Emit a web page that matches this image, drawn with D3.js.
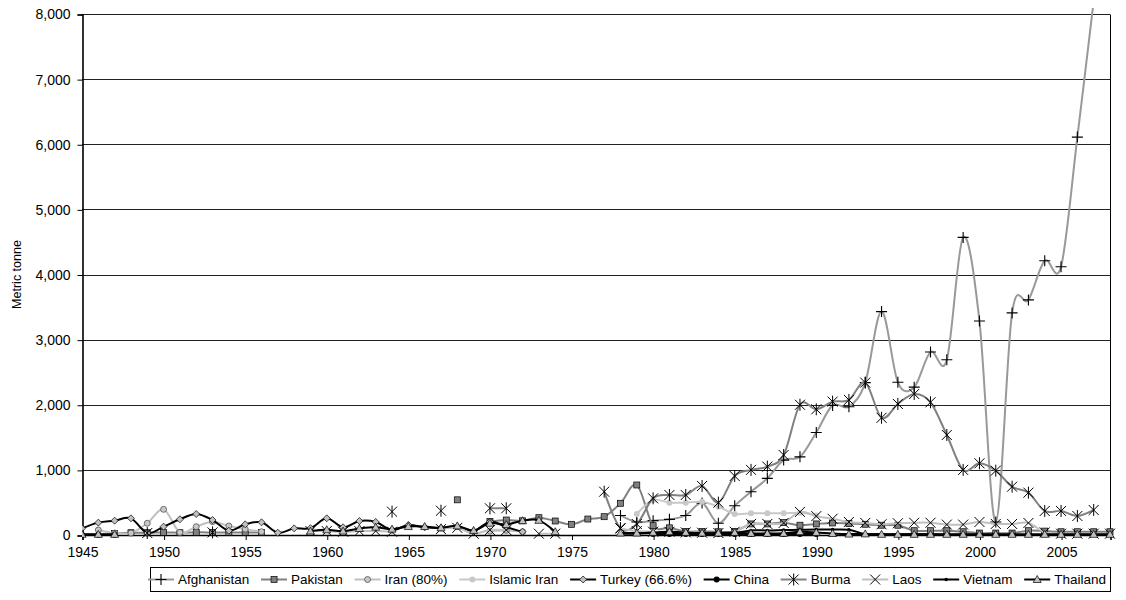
<!DOCTYPE html>
<html>
<head>
<meta charset="utf-8">
<script src="https://cdn.jsdelivr.net/npm/d3@7"></script>
<style>
  body { margin: 0; background: #fff; }
  svg { display: block; font-family: "Liberation Sans", Arial, sans-serif; }
</style>
</head>
<body>
<svg id="chart" width="1126" height="600"></svg>
<script>
// Opium production by country, metric tonnes per year.
// A null entry breaks the line.
const afghanistan = [[1978,300],[1979,200],[1980,220],[1981,240],[1982,300],[1983,490],[1984,180],[1985,450],[1986,665],[1987,870],[1988,1150],[1989,1200],[1990,1575],[1991,1990],[1992,1970],[1993,2340],[1994,3430],[1995,2345],[1996,2270],[1997,2810],[1998,2690],[1999,4570],[2000,3285],[2001,200],[2002,3410],[2003,3610],[2004,4210],[2005,4120],[2006,6110],[2007,8200]];
const pakistan = [[1947,25],[1948,35],[1949,35],[1950,40],[1951,35],[1952,40],[1953,40],[1954,40],[1955,40],[1956,40],[1957,null],[1968,540],[1969,null],[1970,205],[1971,230],[1972,218],[1973,266],[1974,215],[1975,164],[1976,245],[1977,281],[1978,487],[1979,768],[1980,143],[1981,110],[1982,55],[1983,55],[1984,50],[1985,55],[1986,170],[1987,170],[1988,190],[1989,150],[1990,170],[1991,185],[1992,175],[1993,165],[1994,150],[1995,150],[1996,66],[1997,66],[1998,66],[1999,50],[2000,30],[2001,30],[2002,30],[2003,66],[2004,60],[2005,50],[2006,50],[2007,50],[2008,50]];
const iran80 = [[1946,77],[1947,30],[1948,30],[1949,180],[1950,394],[1951,40],[1952,128],[1953,205],[1954,138],[1955,90],[1956,50],[1957,null],[1970,60],[1971,70],[1972,50]];
const islamicIran = [[1979,322],[1980,537],[1981,497],[1982,497],[1983,510],[1984,435],[1985,322],[1986,333],[1987,333],[1988,333],[1989,340],[1990,300]];
const turkey = [[1945,102],[1946,190],[1947,220],[1948,256],[1949,30],[1950,128],[1951,241],[1952,322],[1953,230],[1954,66],[1955,164],[1956,195],[1957,35],[1958,102],[1959,105],[1960,256],[1961,118],[1962,215],[1963,200],[1964,77],[1965,154],[1966,118],[1967,110],[1968,130],[1969,60],[1970,205],[1971,120],[1972,50]];
const china = [[1945,5],[1946,5],[1947,5],[1948,null],[1980,15],[1981,15],[1982,15],[1983,15],[1984,15],[1985,15],[1986,15],[1987,15],[1988,15],[1989,15],[1990,15]];
const burma = [[1949,30],[1950,null],[1953,40],[1954,null],[1964,358],[1965,null],[1967,373],[1968,null],[1970,410],[1971,410],[1972,null],[1977,665],[1978,107],[1979,169],[1980,563],[1981,614],[1982,614],[1983,753],[1984,497],[1985,906],[1986,1000],[1987,1050],[1988,1229],[1989,2000],[1990,1930],[1991,2048],[1992,2074],[1993,2340],[1994,1800],[1995,2012],[1996,2166],[1997,2038],[1998,1536],[1999,1000],[2000,1101],[2001,988],[2002,742],[2003,650],[2004,369],[2005,369],[2006,292],[2007,384]];
const laos = [[1959,60],[1960,60],[1961,50],[1962,60],[1963,60],[1964,50],[1965,null],[1967,90],[1968,110],[1969,20],[1970,77],[1971,77],[1972,null],[1973,20],[1974,20],[1975,null],[1978,100],[1979,60],[1980,50],[1981,50],[1982,40],[1983,35],[1984,30],[1985,50],[1986,170],[1987,170],[1988,185],[1989,355],[1990,290],[1991,250],[1992,200],[1993,185],[1994,165],[1995,180],[1996,188],[1997,188],[1998,160],[1999,160],[2000,200],[2001,170],[2002,170],[2003,185],[2004,40],[2005,20],[2006,20],[2007,20],[2008,20]];
const vietnam = [[1978,20],[1979,20],[1980,30],[1981,30],[1982,25],[1983,25],[1984,25],[1985,30],[1986,70],[1987,70],[1988,75],[1989,80],[1990,85],[1991,85],[1992,80],[1993,15],[1994,15],[1995,10],[1996,10],[1997,10],[1998,5],[1999,5],[2000,5]];
const thailand = [[1945,10],[1946,10],[1947,10],[1948,null],[1959,60],[1960,80],[1961,60],[1962,100],[1963,120],[1964,90],[1965,130],[1966,130],[1967,110],[1968,140],[1969,70],[1970,180],[1971,160],[1972,220],[1973,225],[1974,50],[1975,null],[1978,30],[1979,30],[1980,40],[1981,50],[1982,40],[1983,30],[1984,30],[1985,40],[1986,25],[1987,25],[1988,25],[1989,50],[1990,40],[1991,23],[1992,14],[1993,17],[1994,10],[1995,10],[1996,10],[1997,10],[1998,10],[1999,10],[2000,10],[2001,10],[2002,10],[2003,10],[2004,10],[2005,10],[2006,10],[2007,10],[2008,10]];

const xTicks = [1945,1950,1955,1960,1965,1970,1975,1980,1985,1990,1995,2000,2005];
const yTicks = [0,1000,2000,3000,4000,5000,6000,7000,8000];
const yTitle = "Metric tonne";

// Series styling: line colour and marker type
const series = [
  { name: "Afghanistan",    data: afghanistan, line: "#999999", marker: "plus" },
  { name: "Pakistan",       data: pakistan,    line: "#808080", marker: "square" },
  { name: "Iran (80%)",     data: iran80,      line: "#c0c0c0", marker: "ocircle" },
  { name: "Islamic Iran",   data: islamicIran, line: "#c8c8c8", marker: "dot" },
  { name: "Turkey (66.6%)", data: turkey,      line: "#000000", marker: "diamond" },
  { name: "China",          data: china,       line: "#000000", marker: "bcircle" },
  { name: "Burma",          data: burma,       line: "#808080", marker: "star" },
  { name: "Laos",           data: laos,        line: "#c0c0c0", marker: "cross" },
  { name: "Vietnam",        data: vietnam,     line: "#000000", marker: "smalldot" },
  { name: "Thailand",       data: thailand,    line: "#000000", marker: "triangle" }
];

const svg = d3.select("#chart");
const plotLeft = 82, plotRight = 1110, plotTop = 14, plotBottom = 535;

const x = d3.scaleLinear().domain([1945, 2008]).range([plotLeft, plotRight]);
const y = d3.scaleLinear().domain([0, 8000]).range([plotBottom, plotTop]);

// horizontal gridlines
svg.append("g")
  .selectAll("line")
  .data(yTicks.filter(d => d > 0))
  .join("line")
  .attr("x1", plotLeft).attr("x2", plotRight)
  .attr("y1", d => Math.round(y(d)) + 0.5).attr("y2", d => Math.round(y(d)) + 0.5)
  .attr("stroke", "#222").attr("stroke-width", 1);

// right border of the plot area
svg.append("line")
  .attr("x1", plotRight + 0.5).attr("x2", plotRight + 0.5)
  .attr("y1", Math.round(y(8000)) + 0.5).attr("y2", plotBottom)
  .attr("stroke", "#000");

// axes
const yAxis = d3.axisLeft(y).tickValues(yTicks).tickFormat(d3.format(",")).tickSize(5).tickPadding(7);
const xAxis = d3.axisBottom(x).tickValues(xTicks).tickFormat(d3.format("d")).tickSize(5).tickPadding(7);

const gy = svg.append("g").attr("transform", `translate(${plotLeft + 0.5},0.5)`).call(yAxis);
const gx = svg.append("g").attr("transform", `translate(0.5,${plotBottom})`).call(xAxis);
[gx, gy].forEach(g => {
  g.select(".domain").attr("stroke", "#000").attr("stroke-width", 1.6);
  g.selectAll(".tick line").attr("stroke", "#000");
  g.selectAll("text").attr("font-size", 14).attr("fill", "#000")
    .attr("font-family", "'Liberation Sans', Arial, sans-serif");
});

svg.append("text")
  .attr("transform", `translate(21,${(plotTop + plotBottom) / 2}) rotate(-90)`)
  .attr("text-anchor", "middle")
  .attr("font-size", 12.5)
  .text(yTitle);

// clip so lines may run slightly past the top border but not off the page
svg.append("clipPath").attr("id", "plotclip")
  .append("rect").attr("x", plotLeft).attr("y", 8).attr("width", plotRight - plotLeft + 6).attr("height", plotBottom - 8 + 6);

function drawMarker(g, type) {
  switch (type) {
    case "plus":
      g.append("path").attr("d", "M-5.5,0H5.5M0,-5.5V5.5").attr("stroke", "#000").attr("stroke-width", 1.1).attr("fill", "none");
      break;
    case "square":
      g.append("rect").attr("x", -3).attr("y", -3).attr("width", 6).attr("height", 6)
        .attr("fill", "#808080").attr("stroke", "#000").attr("stroke-width", 0.7);
      break;
    case "ocircle":
      g.append("circle").attr("r", 3).attr("fill", "#c8c8c8").attr("stroke", "#444").attr("stroke-width", 0.7);
      break;
    case "dot":
      g.append("circle").attr("r", 3).attr("fill", "#c8c8c8");
      break;
    case "diamond":
      g.append("path").attr("d", "M0,-3.5L3.5,0L0,3.5L-3.5,0Z").attr("fill", "#c0c0c0").attr("stroke", "#000").attr("stroke-width", 0.7);
      break;
    case "bcircle":
      g.append("circle").attr("r", 3).attr("fill", "#000");
      break;
    case "star":
      g.append("path").attr("d", "M-5,-5L5,5M-5,5L5,-5M0,-6V6").attr("stroke", "#000").attr("stroke-width", 1).attr("fill", "none");
      break;
    case "cross":
      g.append("path").attr("d", "M-5,-5L5,5M-5,5L5,-5").attr("stroke", "#000").attr("stroke-width", 1).attr("fill", "none");
      break;
    case "smalldot":
      g.append("circle").attr("r", 1.8).attr("fill", "#000");
      break;
    case "triangle":
      g.append("path").attr("d", "M0,-4L4,3L-4,3Z").attr("fill", "#c0c0c0").attr("stroke", "#000").attr("stroke-width", 0.7);
      break;
  }
}

const line = d3.line()
  .defined(d => d[1] !== null)
  .x(d => x(d[0]))
  .y(d => y(d[1]))
  .curve(d3.curveCardinal.tension(0));

const plot = svg.append("g").attr("clip-path", "url(#plotclip)");

series.forEach(s => {
  const g = plot.append("g");
  g.append("path")
    .datum(s.data)
    .attr("d", line)
    .attr("fill", "none")
    .attr("stroke", s.line)
    .attr("stroke-width", 2)
    .attr("stroke-linejoin", "round");
  g.selectAll("g.m")
    .data(s.data.filter(d => d[1] !== null && y(d[1]) >= plotTop))
    .join("g").attr("class", "m")
    .attr("transform", d => `translate(${x(d[0])},${y(d[1])})`)
    .each(function () { drawMarker(d3.select(this), s.marker); });
});

// legend
const lg = svg.append("g");
const legTop = 567, legBottom = 591, legLeft = 150, legRight = 1110;
lg.append("rect")
  .attr("x", legLeft + 0.5).attr("y", legTop + 0.5)
  .attr("width", legRight - legLeft).attr("height", legBottom - legTop)
  .attr("fill", "#fff").attr("stroke", "#000");

const texts = series.map(s => lg.append("text").attr("font-size", 13.5).attr("dy", "0.35em").text(s.name));
const widths = texts.map(t => t.node().getComputedTextLength());
const firstText = 178, lastEnd = 1106, symW = 26, symGap = 4;
const gap = (lastEnd - firstText - d3.sum(widths) - (series.length - 1) * (symW + symGap)) / (series.length - 1);
let tx = firstText;
const ly = (legTop + legBottom) / 2 + 0.5;
series.forEach((s, i) => {
  texts[i].attr("x", tx).attr("y", ly);
  const x0 = tx - symGap - symW;
  lg.append("line").attr("x1", x0).attr("x2", x0 + symW).attr("y1", ly).attr("y2", ly)
    .attr("stroke", s.line).attr("stroke-width", 2);
  const mg = lg.append("g").attr("transform", `translate(${x0 + symW / 2},${ly})`);
  drawMarker(mg, s.marker);
  tx += widths[i] + gap + symW + symGap;
});
</script>
</body>
</html>
